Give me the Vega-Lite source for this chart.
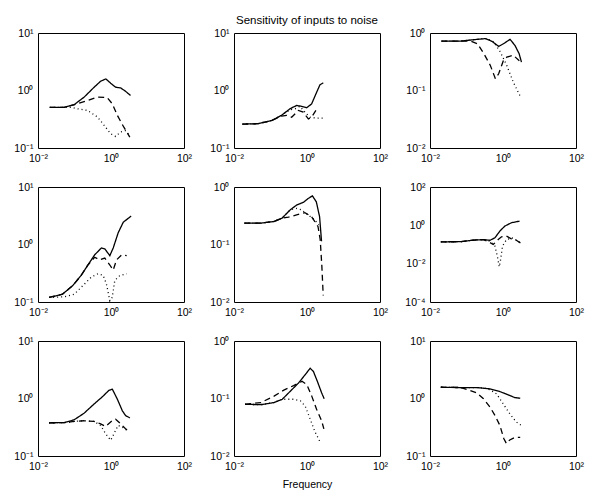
{
"$schema": "https://vega.github.io/schema/vega-lite/v6.json",
"padding": {"left": 13, "top": 14, "right": 2, "bottom": 0},
"background": "white",
"bounds": "flush",
"columns": 3,
"spacing": {"row": 39, "column": 50},
"data": {"values": [
{"p":1,"s":"a","x":0.021,"y":0.51},{"p":1,"s":"a","x":0.053,"y":0.51},{"p":1,"s":"a","x":0.099,"y":0.57},{"p":1,"s":"a","x":0.185,"y":0.77},{"p":1,"s":"a","x":0.345,"y":1.14},{"p":1,"s":"a","x":0.52,"y":1.45},{"p":1,"s":"a","x":0.72,"y":1.59},{"p":1,"s":"a","x":0.98,"y":1.34},{"p":1,"s":"a","x":1.34,"y":1.14},{"p":1,"s":"a","x":1.83,"y":1.11},{"p":1,"s":"a","x":2.5,"y":0.97},{"p":1,"s":"a","x":3.42,"y":0.82},
{"p":1,"s":"b","x":0.021,"y":0.51},{"p":1,"s":"b","x":0.053,"y":0.51},{"p":1,"s":"b","x":0.122,"y":0.59},{"p":1,"s":"b","x":0.228,"y":0.67},{"p":1,"s":"b","x":0.43,"y":0.77},{"p":1,"s":"b","x":0.79,"y":0.75},{"p":1,"s":"b","x":1.08,"y":0.59},{"p":1,"s":"b","x":1.49,"y":0.37},{"p":1,"s":"b","x":2.25,"y":0.23},{"p":1,"s":"b","x":3.28,"y":0.155},
{"p":1,"s":"c","x":0.021,"y":0.51},{"p":1,"s":"c","x":0.08,"y":0.51},{"p":1,"s":"c","x":0.122,"y":0.48},{"p":1,"s":"c","x":0.228,"y":0.45},{"p":1,"s":"c","x":0.43,"y":0.345},{"p":1,"s":"c","x":0.65,"y":0.247},{"p":1,"s":"c","x":0.98,"y":0.177},{"p":1,"s":"c","x":1.34,"y":0.159},{"p":1,"s":"c","x":1.83,"y":0.19},{"p":1,"s":"c","x":2.5,"y":0.2},{"p":1,"s":"c","x":3.28,"y":0.165},
{"p":2,"s":"a","x":0.017,"y":0.26},{"p":2,"s":"a","x":0.046,"y":0.265},{"p":2,"s":"a","x":0.108,"y":0.3},{"p":2,"s":"a","x":0.2,"y":0.37},{"p":2,"s":"a","x":0.34,"y":0.48},{"p":2,"s":"a","x":0.52,"y":0.55},{"p":2,"s":"a","x":0.71,"y":0.53},{"p":2,"s":"a","x":0.98,"y":0.5},{"p":2,"s":"a","x":1.34,"y":0.585},{"p":2,"s":"a","x":1.84,"y":0.935},{"p":2,"s":"a","x":2.27,"y":1.26},{"p":2,"s":"a","x":2.8,"y":1.36},
{"p":2,"s":"b","x":0.017,"y":0.26},{"p":2,"s":"b","x":0.046,"y":0.265},{"p":2,"s":"b","x":0.108,"y":0.3},{"p":2,"s":"b","x":0.2,"y":0.36},{"p":2,"s":"b","x":0.277,"y":0.37},{"p":2,"s":"b","x":0.38,"y":0.343},{"p":2,"s":"b","x":0.58,"y":0.45},{"p":2,"s":"b","x":0.79,"y":0.42},{"p":2,"s":"b","x":1.09,"y":0.32},{"p":2,"s":"b","x":1.34,"y":0.343},{"p":2,"s":"b","x":1.9,"y":0.49},
{"p":2,"s":"c","x":0.017,"y":0.26},{"p":2,"s":"c","x":0.046,"y":0.265},{"p":2,"s":"c","x":0.108,"y":0.3},{"p":2,"s":"c","x":0.2,"y":0.37},{"p":2,"s":"c","x":0.34,"y":0.46},{"p":2,"s":"c","x":0.47,"y":0.48},{"p":2,"s":"c","x":0.64,"y":0.53},{"p":2,"s":"c","x":0.88,"y":0.42},{"p":2,"s":"c","x":1.21,"y":0.343},{"p":2,"s":"c","x":1.84,"y":0.33},{"p":2,"s":"c","x":2.8,"y":0.33},
{"p":3,"s":"a","x":0.0206,"y":0.725},{"p":3,"s":"a","x":0.071,"y":0.725},{"p":3,"s":"a","x":0.161,"y":0.765},{"p":3,"s":"a","x":0.33,"y":0.8},{"p":3,"s":"a","x":0.5,"y":0.715},{"p":3,"s":"a","x":0.76,"y":0.585},{"p":3,"s":"a","x":1.03,"y":0.65},{"p":3,"s":"a","x":1.56,"y":0.775},{"p":3,"s":"a","x":2.12,"y":0.61},{"p":3,"s":"a","x":2.77,"y":0.436},{"p":3,"s":"a","x":3.2,"y":0.312},
{"p":3,"s":"b","x":0.0206,"y":0.725},{"p":3,"s":"b","x":0.071,"y":0.725},{"p":3,"s":"b","x":0.13,"y":0.725},{"p":3,"s":"b","x":0.2,"y":0.65},{"p":3,"s":"b","x":0.3,"y":0.436},{"p":3,"s":"b","x":0.45,"y":0.273},{"p":3,"s":"b","x":0.62,"y":0.16},{"p":3,"s":"b","x":0.76,"y":0.195},{"p":3,"s":"b","x":1.03,"y":0.334},{"p":3,"s":"b","x":1.27,"y":0.38},{"p":3,"s":"b","x":1.91,"y":0.41},{"p":3,"s":"b","x":2.8,"y":0.33},
{"p":3,"s":"c","x":0.0206,"y":0.725},{"p":3,"s":"c","x":0.071,"y":0.725},{"p":3,"s":"c","x":0.161,"y":0.765},{"p":3,"s":"c","x":0.26,"y":0.79},{"p":3,"s":"c","x":0.37,"y":0.8},{"p":3,"s":"c","x":0.56,"y":0.7},{"p":3,"s":"c","x":0.84,"y":0.47},{"p":3,"s":"c","x":1.27,"y":0.273},{"p":3,"s":"c","x":1.91,"y":0.14},{"p":3,"s":"c","x":2.89,"y":0.082},
{"p":4,"s":"a","x":0.0202,"y":0.12},{"p":4,"s":"a","x":0.047,"y":0.137},{"p":4,"s":"a","x":0.0895,"y":0.193},{"p":4,"s":"a","x":0.152,"y":0.29},{"p":4,"s":"a","x":0.233,"y":0.44},{"p":4,"s":"a","x":0.356,"y":0.66},{"p":4,"s":"a","x":0.545,"y":0.87},{"p":4,"s":"a","x":0.675,"y":0.84},{"p":4,"s":"a","x":0.93,"y":0.64},{"p":4,"s":"a","x":1.15,"y":0.87},{"p":4,"s":"a","x":1.58,"y":1.61},{"p":4,"s":"a","x":2.17,"y":2.44},{"p":4,"s":"a","x":3.55,"y":3.12},
{"p":4,"s":"b","x":0.0202,"y":0.12},{"p":4,"s":"b","x":0.047,"y":0.137},{"p":4,"s":"b","x":0.0895,"y":0.193},{"p":4,"s":"b","x":0.152,"y":0.29},{"p":4,"s":"b","x":0.233,"y":0.44},{"p":4,"s":"b","x":0.356,"y":0.6},{"p":4,"s":"b","x":0.49,"y":0.54},{"p":4,"s":"b","x":0.675,"y":0.58},{"p":4,"s":"b","x":0.93,"y":0.44},{"p":4,"s":"b","x":1.15,"y":0.36},{"p":4,"s":"b","x":1.42,"y":0.54},{"p":4,"s":"b","x":1.95,"y":0.66},{"p":4,"s":"b","x":2.69,"y":0.64},
{"p":4,"s":"c","x":0.0202,"y":0.12},{"p":4,"s":"c","x":0.052,"y":0.123},{"p":4,"s":"c","x":0.099,"y":0.137},{"p":4,"s":"c","x":0.17,"y":0.193},{"p":4,"s":"c","x":0.29,"y":0.272},{"p":4,"s":"c","x":0.44,"y":0.31},{"p":4,"s":"c","x":0.61,"y":0.29},{"p":4,"s":"c","x":0.75,"y":0.206},{"p":4,"s":"c","x":0.93,"y":0.105},{"p":4,"s":"c","x":1.08,"y":0.12},{"p":4,"s":"c","x":1.27,"y":0.237},{"p":4,"s":"c","x":1.76,"y":0.29},{"p":4,"s":"c","x":2.69,"y":0.31},
{"p":5,"s":"a","x":0.0193,"y":0.235},{"p":5,"s":"a","x":0.054,"y":0.235},{"p":5,"s":"a","x":0.124,"y":0.251},{"p":5,"s":"a","x":0.207,"y":0.287},{"p":5,"s":"a","x":0.346,"y":0.4},{"p":5,"s":"a","x":0.52,"y":0.485},{"p":5,"s":"a","x":0.79,"y":0.54},{"p":5,"s":"a","x":1.07,"y":0.63},{"p":5,"s":"a","x":1.41,"y":0.7},{"p":5,"s":"a","x":1.8,"y":0.553},{"p":5,"s":"a","x":2.21,"y":0.306},{"p":5,"s":"a","x":2.5,"y":0.114},
{"p":5,"s":"b","x":0.0193,"y":0.235},{"p":5,"s":"b","x":0.054,"y":0.235},{"p":5,"s":"b","x":0.124,"y":0.251},{"p":5,"s":"b","x":0.207,"y":0.287},{"p":5,"s":"b","x":0.31,"y":0.3},{"p":5,"s":"b","x":0.52,"y":0.327},{"p":5,"s":"b","x":0.875,"y":0.358},{"p":5,"s":"b","x":1.32,"y":0.306},{"p":5,"s":"b","x":2.0,"y":0.206},{"p":5,"s":"b","x":2.3,"y":0.122},{"p":5,"s":"b","x":2.55,"y":0.0425},{"p":5,"s":"b","x":2.78,"y":0.013},
{"p":5,"s":"c","x":0.0193,"y":0.235},{"p":5,"s":"c","x":0.054,"y":0.235},{"p":5,"s":"c","x":0.124,"y":0.251},{"p":5,"s":"c","x":0.207,"y":0.287},{"p":5,"s":"c","x":0.346,"y":0.4},{"p":5,"s":"c","x":0.52,"y":0.425},{"p":5,"s":"c","x":0.71,"y":0.4},{"p":5,"s":"c","x":1.07,"y":0.327},{"p":5,"s":"c","x":1.62,"y":0.268},{"p":5,"s":"c","x":2.1,"y":0.22},
{"p":6,"s":"a","x":0.0198,"y":0.138},{"p":6,"s":"a","x":0.0686,"y":0.14},{"p":6,"s":"a","x":0.157,"y":0.169},{"p":6,"s":"a","x":0.292,"y":0.18},{"p":6,"s":"a","x":0.44,"y":0.166},{"p":6,"s":"a","x":0.6,"y":0.223},{"p":6,"s":"a","x":0.82,"y":0.5},{"p":6,"s":"a","x":1.12,"y":0.91},{"p":6,"s":"a","x":1.69,"y":1.36},{"p":6,"s":"a","x":2.84,"y":1.66},
{"p":6,"s":"b","x":0.0198,"y":0.138},{"p":6,"s":"b","x":0.0686,"y":0.14},{"p":6,"s":"b","x":0.157,"y":0.169},{"p":6,"s":"b","x":0.292,"y":0.18},{"p":6,"s":"b","x":0.4,"y":0.14},{"p":6,"s":"b","x":0.54,"y":0.1},{"p":6,"s":"b","x":0.74,"y":0.18},{"p":6,"s":"b","x":0.91,"y":0.25},{"p":6,"s":"b","x":1.24,"y":0.273},{"p":6,"s":"b","x":1.69,"y":0.199},{"p":6,"s":"b","x":2.31,"y":0.166},{"p":6,"s":"b","x":3.0,"y":0.122},
{"p":6,"s":"c","x":0.0198,"y":0.138},{"p":6,"s":"c","x":0.0686,"y":0.14},{"p":6,"s":"c","x":0.157,"y":0.169},{"p":6,"s":"c","x":0.292,"y":0.18},{"p":6,"s":"c","x":0.44,"y":0.15},{"p":6,"s":"c","x":0.6,"y":0.082},{"p":6,"s":"c","x":0.7,"y":0.0245},{"p":6,"s":"c","x":0.79,"y":0.0068},{"p":6,"s":"c","x":0.86,"y":0.0164},{"p":6,"s":"c","x":0.97,"y":0.082},{"p":6,"s":"c","x":1.24,"y":0.18},{"p":6,"s":"c","x":1.88,"y":0.223},{"p":6,"s":"c","x":3.0,"y":0.122},
{"p":7,"s":"a","x":0.02,"y":0.378},{"p":7,"s":"a","x":0.0515,"y":0.38},{"p":7,"s":"a","x":0.097,"y":0.425},{"p":7,"s":"a","x":0.182,"y":0.553},{"p":7,"s":"a","x":0.342,"y":0.8},{"p":7,"s":"a","x":0.58,"y":1.07},{"p":7,"s":"a","x":0.88,"y":1.39},{"p":7,"s":"a","x":1.09,"y":1.45},{"p":7,"s":"a","x":1.49,"y":0.975},{"p":7,"s":"a","x":2.05,"y":0.61},{"p":7,"s":"a","x":2.5,"y":0.505},{"p":7,"s":"a","x":3.3,"y":0.46},
{"p":7,"s":"b","x":0.02,"y":0.378},{"p":7,"s":"b","x":0.0515,"y":0.38},{"p":7,"s":"b","x":0.097,"y":0.4},{"p":7,"s":"b","x":0.182,"y":0.41},{"p":7,"s":"b","x":0.342,"y":0.4},{"p":7,"s":"b","x":0.52,"y":0.363},{"p":7,"s":"b","x":0.71,"y":0.327},{"p":7,"s":"b","x":1.09,"y":0.414},{"p":7,"s":"b","x":1.34,"y":0.437},{"p":7,"s":"b","x":1.84,"y":0.363},{"p":7,"s":"b","x":2.5,"y":0.298},{"p":7,"s":"b","x":3.3,"y":0.261},
{"p":7,"s":"c","x":0.02,"y":0.378},{"p":7,"s":"c","x":0.0515,"y":0.38},{"p":7,"s":"c","x":0.097,"y":0.4},{"p":7,"s":"c","x":0.182,"y":0.41},{"p":7,"s":"c","x":0.342,"y":0.4},{"p":7,"s":"c","x":0.52,"y":0.34},{"p":7,"s":"c","x":0.71,"y":0.245},{"p":7,"s":"c","x":0.98,"y":0.188},{"p":7,"s":"c","x":1.21,"y":0.245},{"p":7,"s":"c","x":1.57,"y":0.34},{"p":7,"s":"c","x":2.05,"y":0.318},{"p":7,"s":"c","x":2.7,"y":0.28},
{"p":8,"s":"a","x":0.0202,"y":0.0794},{"p":8,"s":"a","x":0.0546,"y":0.078},{"p":8,"s":"a","x":0.125,"y":0.085},{"p":8,"s":"a","x":0.21,"y":0.097},{"p":8,"s":"a","x":0.35,"y":0.134},{"p":8,"s":"a","x":0.59,"y":0.187},{"p":8,"s":"a","x":0.89,"y":0.259},{"p":8,"s":"a","x":1.22,"y":0.336},{"p":8,"s":"a","x":1.5,"y":0.295},{"p":8,"s":"a","x":1.92,"y":0.199},{"p":8,"s":"a","x":2.51,"y":0.126},{"p":8,"s":"a","x":2.96,"y":0.099},
{"p":8,"s":"b","x":0.0202,"y":0.0794},{"p":8,"s":"b","x":0.0546,"y":0.085},{"p":8,"s":"b","x":0.125,"y":0.11},{"p":8,"s":"b","x":0.232,"y":0.14},{"p":8,"s":"b","x":0.43,"y":0.168},{"p":8,"s":"b","x":0.73,"y":0.199},{"p":8,"s":"b","x":0.99,"y":0.175},{"p":8,"s":"b","x":1.35,"y":0.11},{"p":8,"s":"b","x":1.83,"y":0.065},{"p":8,"s":"b","x":2.51,"y":0.041},{"p":8,"s":"b","x":2.9,"y":0.0297},
{"p":8,"s":"c","x":0.0202,"y":0.0794},{"p":8,"s":"c","x":0.0546,"y":0.078},{"p":8,"s":"c","x":0.125,"y":0.085},{"p":8,"s":"c","x":0.21,"y":0.097},{"p":8,"s":"c","x":0.32,"y":0.097},{"p":8,"s":"c","x":0.43,"y":0.097},{"p":8,"s":"c","x":0.66,"y":0.091},{"p":8,"s":"c","x":0.89,"y":0.074},{"p":8,"s":"c","x":1.22,"y":0.044},{"p":8,"s":"c","x":1.67,"y":0.026},{"p":8,"s":"c","x":2.4,"y":0.0165},
{"p":9,"s":"a","x":0.0198,"y":1.57},{"p":9,"s":"a","x":0.0686,"y":1.55},{"p":9,"s":"a","x":0.193,"y":1.55},{"p":9,"s":"a","x":0.44,"y":1.47},{"p":9,"s":"a","x":0.82,"y":1.32},{"p":9,"s":"a","x":1.38,"y":1.16},{"p":9,"s":"a","x":2.08,"y":1.04},{"p":9,"s":"a","x":2.96,"y":1.01},
{"p":9,"s":"b","x":0.0198,"y":1.57},{"p":9,"s":"b","x":0.0686,"y":1.55},{"p":9,"s":"b","x":0.115,"y":1.41},{"p":9,"s":"b","x":0.193,"y":1.25},{"p":9,"s":"b","x":0.292,"y":0.99},{"p":9,"s":"b","x":0.44,"y":0.71},{"p":9,"s":"b","x":0.6,"y":0.51},{"p":9,"s":"b","x":0.82,"y":0.342},{"p":9,"s":"b","x":1.05,"y":0.202},{"p":9,"s":"b","x":1.24,"y":0.165},{"p":9,"s":"b","x":1.53,"y":0.19},{"p":9,"s":"b","x":2.08,"y":0.21},{"p":9,"s":"b","x":2.96,"y":0.21},
{"p":9,"s":"c","x":0.0198,"y":1.57},{"p":9,"s":"c","x":0.0686,"y":1.55},{"p":9,"s":"c","x":0.193,"y":1.55},{"p":9,"s":"c","x":0.292,"y":1.53},{"p":9,"s":"c","x":0.44,"y":1.42},{"p":9,"s":"c","x":0.67,"y":1.2},{"p":9,"s":"c","x":1.01,"y":0.81},{"p":9,"s":"c","x":1.53,"y":0.545},{"p":9,"s":"c","x":2.31,"y":0.39},{"p":9,"s":"c","x":3.15,"y":0.342}
]},
"concat": [
{"width":146,"height":115,"transform":[{"filter":"datum.p==1"}],"mark":{"type":"line","color":"black","strokeWidth":1.3,"clip":true},
 "encoding":{"x":{"field":"x","type":"quantitative","scale":{"type":"log","domain":[0.01,100]},"axis":{"values":[0.01,1,100],"title":null}},
 "y":{"field":"y","type":"quantitative","scale":{"type":"log","domain":[0.1,10]},"axis":{"values":[0.1,1,10],"title":null}},
 "strokeDash":{"field":"s","type":"nominal","scale":{"domain":["a","b","c"],"range":[[1,0],[6,4],[1,3]]},"legend":null}}},
{"width":146,"height":115,"title":{"text":"Sensitivity of inputs to noise","offset":2},"transform":[{"filter":"datum.p==2"}],"mark":{"type":"line","color":"black","strokeWidth":1.3,"clip":true},
 "encoding":{"x":{"field":"x","type":"quantitative","scale":{"type":"log","domain":[0.01,100]},"axis":{"values":[0.01,1,100],"title":null}},
 "y":{"field":"y","type":"quantitative","scale":{"type":"log","domain":[0.1,10]},"axis":{"values":[0.1,1,10],"title":null}},
 "strokeDash":{"field":"s","type":"nominal","scale":{"domain":["a","b","c"],"range":[[1,0],[6,4],[1,3]]},"legend":null}}},
{"width":146,"height":115,"transform":[{"filter":"datum.p==3"}],"mark":{"type":"line","color":"black","strokeWidth":1.3,"clip":true},
 "encoding":{"x":{"field":"x","type":"quantitative","scale":{"type":"log","domain":[0.01,100]},"axis":{"values":[0.01,1,100],"title":null}},
 "y":{"field":"y","type":"quantitative","scale":{"type":"log","domain":[0.01,1]},"axis":{"values":[0.01,0.1,1],"title":null}},
 "strokeDash":{"field":"s","type":"nominal","scale":{"domain":["a","b","c"],"range":[[1,0],[6,4],[1,3]]},"legend":null}}},
{"width":146,"height":115,"transform":[{"filter":"datum.p==4"}],"mark":{"type":"line","color":"black","strokeWidth":1.3,"clip":true},
 "encoding":{"x":{"field":"x","type":"quantitative","scale":{"type":"log","domain":[0.01,100]},"axis":{"values":[0.01,1,100],"title":null}},
 "y":{"field":"y","type":"quantitative","scale":{"type":"log","domain":[0.1,10]},"axis":{"values":[0.1,1,10],"title":null}},
 "strokeDash":{"field":"s","type":"nominal","scale":{"domain":["a","b","c"],"range":[[1,0],[6,4],[1,3]]},"legend":null}}},
{"width":146,"height":115,"transform":[{"filter":"datum.p==5"}],"mark":{"type":"line","color":"black","strokeWidth":1.3,"clip":true},
 "encoding":{"x":{"field":"x","type":"quantitative","scale":{"type":"log","domain":[0.01,100]},"axis":{"values":[0.01,1,100],"title":null}},
 "y":{"field":"y","type":"quantitative","scale":{"type":"log","domain":[0.01,1]},"axis":{"values":[0.01,0.1,1],"title":null}},
 "strokeDash":{"field":"s","type":"nominal","scale":{"domain":["a","b","c"],"range":[[1,0],[6,4],[1,3]]},"legend":null}}},
{"width":146,"height":115,"transform":[{"filter":"datum.p==6"}],"mark":{"type":"line","color":"black","strokeWidth":1.3,"clip":true},
 "encoding":{"x":{"field":"x","type":"quantitative","scale":{"type":"log","domain":[0.01,100]},"axis":{"values":[0.01,1,100],"title":null}},
 "y":{"field":"y","type":"quantitative","scale":{"type":"log","domain":[0.0001,100]},"axis":{"values":[0.0001,0.01,1,100],"title":null}},
 "strokeDash":{"field":"s","type":"nominal","scale":{"domain":["a","b","c"],"range":[[1,0],[6,4],[1,3]]},"legend":null}}},
{"width":146,"height":115,"transform":[{"filter":"datum.p==7"}],"mark":{"type":"line","color":"black","strokeWidth":1.3,"clip":true},
 "encoding":{"x":{"field":"x","type":"quantitative","scale":{"type":"log","domain":[0.01,100]},"axis":{"values":[0.01,1,100],"title":null}},
 "y":{"field":"y","type":"quantitative","scale":{"type":"log","domain":[0.1,10]},"axis":{"values":[0.1,1,10],"title":null}},
 "strokeDash":{"field":"s","type":"nominal","scale":{"domain":["a","b","c"],"range":[[1,0],[6,4],[1,3]]},"legend":null}}},
{"width":146,"height":115,"transform":[{"filter":"datum.p==8"}],"mark":{"type":"line","color":"black","strokeWidth":1.3,"clip":true},
 "encoding":{"x":{"field":"x","type":"quantitative","scale":{"type":"log","domain":[0.01,100]},"axis":{"values":[0.01,1,100],"title":"Frequency","titlePadding":8}},
 "y":{"field":"y","type":"quantitative","scale":{"type":"log","domain":[0.01,1]},"axis":{"values":[0.01,0.1,1],"title":null}},
 "strokeDash":{"field":"s","type":"nominal","scale":{"domain":["a","b","c"],"range":[[1,0],[6,4],[1,3]]},"legend":null}}},
{"width":146,"height":115,"transform":[{"filter":"datum.p==9"}],"mark":{"type":"line","color":"black","strokeWidth":1.3,"clip":true},
 "encoding":{"x":{"field":"x","type":"quantitative","scale":{"type":"log","domain":[0.01,100]},"axis":{"values":[0.01,1,100],"title":null}},
 "y":{"field":"y","type":"quantitative","scale":{"type":"log","domain":[0.1,10]},"axis":{"values":[0.1,1,10],"title":null}},
 "strokeDash":{"field":"s","type":"nominal","scale":{"domain":["a","b","c"],"range":[[1,0],[6,4],[1,3]]},"legend":null}}}
],
"config": {
 "view": {"stroke": "black", "strokeWidth": 1},
 "axis": {"grid": false, "domain": false, "ticks": false, "labelFont": "Liberation Sans", "labelFontSize": 10.5, "labelColor": "black", "labelPadding": 5, "labelFlush": false, "labelOverlap": false,
  "labelExpr": "'10' + replace(replace(replace(replace(replace('' + round(log(datum.value) / LN10), '-', '⁻'), '0', '⁰'), '1', '¹'), '2', '²'), '4', '⁴')",
  "titleFont": "Liberation Sans", "titleFontSize": 10.5, "titleFontWeight": "normal", "titleColor": "black"},
 "title": {"font": "Liberation Sans", "fontSize": 11.5, "fontWeight": "normal", "color": "black"}
}
}
